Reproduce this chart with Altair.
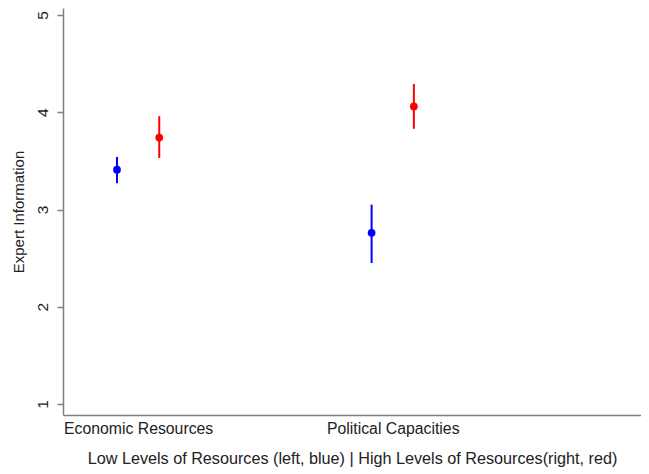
import altair as alt
import pandas as pd

categories = ["Economic Resources", "Political Capacities"]
groups = ["Low", "High"]
low_mean = [3.41, 2.76]
low_lo = [3.27, 2.45]
low_hi = [3.54, 3.05]
high_mean = [3.74, 4.06]
high_lo = [3.53, 3.83]
high_hi = [3.96, 4.29]
category_pos = [1, 2]
group_offset = [-0.083, 0.083]
colors = ["#0000FF", "#FF0000"]

rows = []
for i, c in enumerate(categories):
    rows.append(dict(category=c, group="Low", x=category_pos[i] + group_offset[0],
                     mean=low_mean[i], lo=low_lo[i], hi=low_hi[i]))
    rows.append(dict(category=c, group="High", x=category_pos[i] + group_offset[1],
                     mean=high_mean[i], lo=high_lo[i], hi=high_hi[i]))
df = pd.DataFrame(rows)

font = "Liberation Sans"
xscale = alt.Scale(domain=[0.705, 2.975], nice=False, zero=False)
yscale = alt.Scale(domain=[0.887, 5.072], nice=False, zero=False)
color = alt.Color("group:N", scale=alt.Scale(domain=groups, range=colors), legend=None)

xaxis = alt.Axis(
    values=category_pos,
    labelExpr="datum.value == 1 ? 'Economic Resources' : 'Political Capacities'",
    title="Low Levels of Resources (left, blue) | High Levels of Resources(right, red)",
    grid=False, ticks=False, labelPadding=6, labelFontSize=15.8, titleFontSize=16.2,
    titleFontWeight="normal", titlePadding=15, domainColor="#7f7f7f", domainWidth=1.5,
    labelColor="#222222", titleColor="#222222", labelFont=font, titleFont=font,
)
yaxis = alt.Axis(
    values=[1, 2, 3, 4, 5], format="d", title="Expert Information",
    grid=False, tickSize=6, labelAngle=270, labelPadding=7, labelFontSize=15.5,
    titleFontSize=15, titleFontWeight="normal", titlePadding=9,
    domainColor="#7f7f7f", tickColor="#7f7f7f", domainWidth=1.5, tickWidth=1.5,
    labelColor="#222222", titleColor="#222222", labelFont=font, titleFont=font,
)

base = alt.Chart(df)
bars = base.mark_rule(strokeWidth=2).encode(
    x=alt.X("x:Q", scale=xscale, axis=xaxis),
    y=alt.Y("lo:Q", scale=yscale, axis=yaxis),
    y2="hi:Q",
    color=color,
)
points = base.mark_circle(size=60, opacity=1).encode(
    x=alt.X("x:Q", scale=xscale),
    y=alt.Y("mean:Q", scale=yscale),
    color=color,
)

chart = (bars + points).properties(
    width=578, height=407,
    autosize=alt.AutoSizeParams(type="none"),
    padding={"left": 55, "top": 0, "right": 0, "bottom": 58},
).configure_view(stroke=None)

chart.save("out.html", embed_options={"renderer": "svg", "actions": False})
